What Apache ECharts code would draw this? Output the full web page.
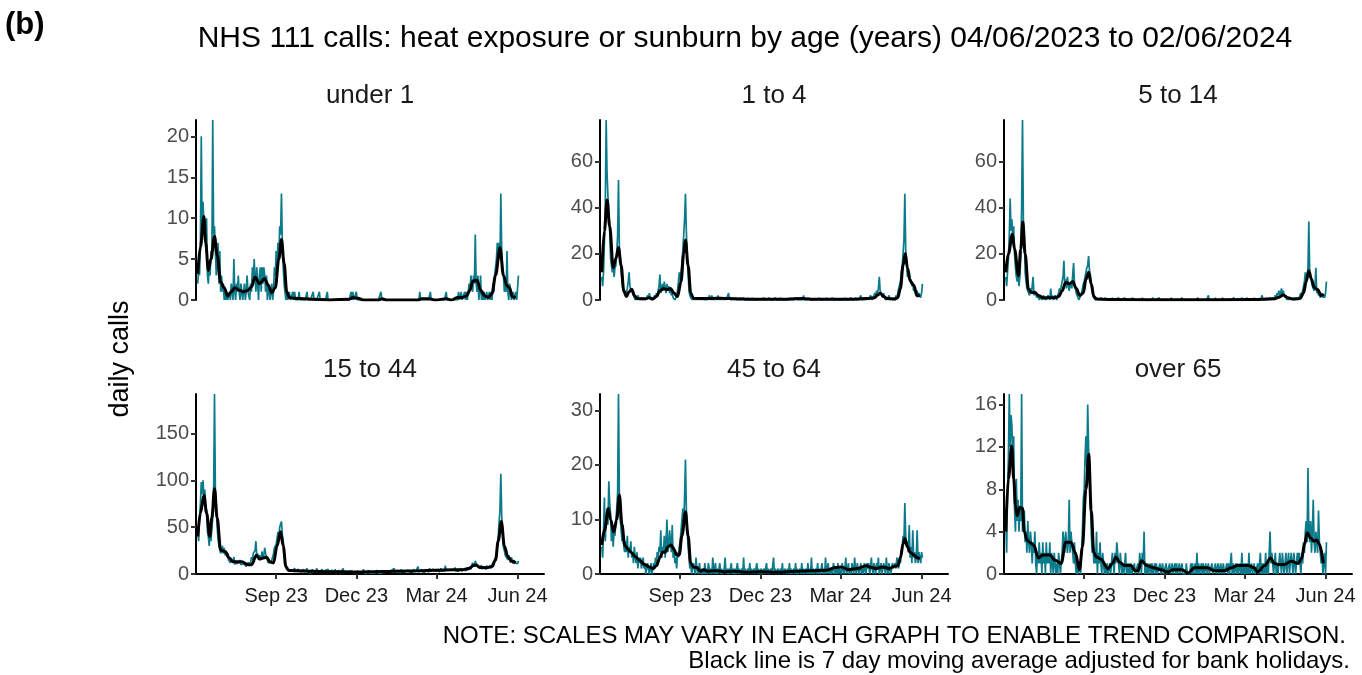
<!DOCTYPE html>
<html>
<head>
<meta charset="utf-8">
<script src="https://cdn.jsdelivr.net/npm/echarts@6/dist/echarts.min.js"></script>
<style>
  html, body { margin: 0; background: #fff; }
  #chart { width: 1362px; height: 675px; }
</style>
</head>
<body>
<div id="chart"></div>
<script>
// daily calls from 04/06/2023 to 02/06/2024, one value per day
const startDay = '2023-06-04';

const under1 = [
  2,4,3,7,20,8,12,9,9,7,10,3,2,4,3,6,5,22,8,9,6,3,4,7,2,6,1, // Jun 23
  3,1,2,0,1,0,1,0,0,1,0,2,1,0,5,1,0,2,1,3,1,0,2,1,0,1,2,0,1,3,1, // Jul
  1,0,2,1,4,2,5,3,1,4,2,0,3,4,1,4,2,4,3,1,3,0,2,1,0,1,2,0,1,4,3, // Aug
  6,4,7,5,9,8,13,7,4,2,1,0,1,0,0,1,0,0,0,1,0,1,0,0,0,0,1,0,0,0, // Sep
  0,0,0,0,0,1,0,0,0,0,0,0,1,0,0,0,0,0,0,1,0,0,0,0,0,0,0,0,1,0,0, // Oct
  0,0,0,0,0,0,0,0,0,0,0,0,0,0,0,0,0,0,0,0,0,0,0,0,1,0,1,0,0,0, // Nov
  1,0,0,0,0,0,0,0,0,0,0,0,0,0,0,0,0,0,0,0,0,0,0,0,0,0,0,0,1,0,0, // Dec
  0,0,0,0,0,0,0,0,0,0,0,0,0,0,0,0,0,0,0,0,0,0,0,0,0,0,0,0,0,0,0, // Jan 24
  0,0,0,0,0,0,0,0,0,0,1,0,0,0,0,0,0,0,0,0,0,0,1,0,0,0,0,0,0, // Feb
  0,0,0,0,0,0,0,0,0,0,0,1,0,0,0,0,0,0,0,0,0,0,0,0,0,1,0,0,1,0,0, // Mar
  0,1,0,1,0,1,2,1,3,2,1,3,2,8,2,1,3,0,1,3,0,1,0,1,0,0,1,0,0,1, // Apr
  0,1,0,2,1,3,4,5,7,6,7,5,13,6,4,3,1,2,1,6,1,0,2,1,0,0,1,0,0,1,0, // May
  0,3 // Jun 24
];
const age1to4 = [
  10,6,12,25,40,78,55,45,38,30,18,18,12,15,10,14,15,20,28,52,22,18,12,8,5,3,4,
  2,3,5,8,12,6,4,5,3,2,1,0,1,0,2,1,0,0,1,0,0,1,0,0,1,2,1,3,1,0,1,
  0,1,2,1,3,2,4,6,11,3,5,7,4,8,5,3,7,4,6,3,5,2,3,1,1,0,1,2,4,8,12,
  8,12,16,22,28,35,46,30,18,12,4,2,1,1,0,1,0,1,0,0,1,0,0,1,0,0,1,0,0,0,
  0,1,0,2,1,0,2,0,1,0,0,1,0,2,0,1,0,0,1,0,0,1,0,0,0,3,0,1,0,0,1,
  0,0,1,0,0,0,0,1,0,0,0,1,0,0,0,0,1,0,0,0,0,1,0,0,0,0,0,0,0,0,
  0,0,0,0,1,0,0,0,0,0,1,0,0,0,0,0,0,1,0,0,0,0,0,1,0,0,0,0,0,0,0,
  0,0,0,1,0,0,0,0,0,0,1,0,0,0,0,0,0,0,2,0,0,0,0,0,1,0,0,0,0,0,0,
  0,0,0,0,0,1,0,0,0,0,0,0,0,1,0,0,0,0,0,0,1,0,0,0,0,0,0,0,0,
  0,0,0,0,0,1,0,0,0,0,0,0,1,0,0,0,0,1,0,0,0,0,0,2,0,0,0,0,1,0,0,
  1,0,1,2,1,0,1,2,3,2,4,3,5,10,4,3,2,1,3,1,0,1,0,1,2,0,1,0,1,0,
  1,0,2,1,3,5,5,8,12,15,20,26,46,22,15,10,10,12,8,9,6,7,4,5,3,2,4,2,3,2,1,
  3,7
];
const age5to14 = [
  10,6,12,18,28,44,30,35,25,32,20,14,10,8,12,6,10,18,40,78,35,30,12,8,5,4,3,
  2,5,3,6,10,2,4,3,1,2,1,0,2,1,0,1,2,0,1,0,1,2,1,0,5,1,2,0,1,2,1,
  0,2,3,5,4,6,8,10,17,6,9,5,10,7,4,6,8,5,11,16,7,5,3,2,1,0,1,2,3,5,7,
  8,10,12,14,15,19,13,11,7,4,2,1,1,0,0,1,0,0,0,1,0,0,0,0,1,0,0,0,0,0,
  0,0,1,0,0,0,0,0,0,1,0,0,0,0,0,0,1,0,0,0,0,0,0,0,0,1,0,0,0,0,0,
  0,0,0,0,0,1,0,0,0,0,0,0,0,0,0,0,0,1,0,0,0,0,0,0,1,0,0,0,0,0,
  0,0,0,0,0,0,0,0,1,0,0,0,0,0,0,0,0,0,0,0,1,0,0,0,0,0,0,0,0,0,0,
  0,0,0,0,0,0,0,1,0,0,0,0,0,0,0,0,0,0,0,2,0,0,0,0,0,0,0,1,0,0,0,
  0,0,0,0,1,0,0,0,0,0,0,0,0,0,0,0,0,1,0,0,0,0,0,0,0,0,1,0,0,
  0,0,0,1,0,0,0,0,0,0,0,1,0,0,0,0,0,0,0,0,2,0,0,0,0,1,0,0,0,1,0,
  0,1,0,1,2,1,3,2,4,2,3,5,2,4,2,1,2,0,1,0,1,0,1,0,0,1,0,1,0,1,
  0,1,2,3,2,4,6,8,12,7,10,14,34,12,10,8,6,5,4,6,14,3,4,2,3,1,2,3,1,2,1,
  3,8
];
const age15to44 = [
  45,35,60,75,98,85,100,80,90,72,68,45,40,30,42,35,48,60,85,192,90,75,50,38,30,28,22,
  25,30,22,28,20,24,18,22,15,17,12,16,14,12,18,10,14,11,13,9,12,15,10,12,8,11,9,13,8,10,12,
  10,14,12,18,15,22,20,25,35,18,22,16,20,15,18,24,16,20,28,22,18,15,12,14,10,12,15,18,22,28,30,
  32,38,45,40,50,52,56,42,35,25,15,8,5,4,6,3,5,4,3,5,4,6,3,4,2,5,3,4,2,3,
  3,5,2,4,3,6,2,3,4,1,3,5,2,4,3,2,6,3,1,4,2,3,5,2,3,1,4,2,3,5,2,
  3,1,4,2,3,2,5,1,3,2,4,2,1,3,2,6,2,3,1,2,4,2,3,1,2,3,5,2,1,3,
  2,3,1,4,2,1,3,2,5,1,2,3,1,2,4,1,3,2,1,2,3,1,2,4,2,1,3,2,1,2,3,
  2,4,1,3,2,5,2,3,1,4,2,3,6,2,1,3,4,2,3,1,5,2,3,4,2,3,1,4,2,3,2,
  3,4,2,5,3,2,4,3,8,2,4,3,5,2,4,3,2,5,3,4,2,6,3,4,2,5,3,4,3,
  4,3,5,2,4,6,3,4,5,3,9,4,3,5,4,3,6,4,5,3,4,7,3,5,4,3,5,4,6,3,5,
  4,6,3,5,7,4,6,8,5,9,12,10,8,14,11,9,12,8,7,6,9,5,8,6,7,5,9,6,8,7,
  9,6,10,8,12,15,15,20,30,40,55,68,107,62,42,28,25,20,18,22,15,20,16,12,18,14,11,15,12,10,13,
  11,14
];
const age45to64 = [
  5,3,8,14,6,10,12,9,17,13,11,6,9,5,8,7,10,12,15,33,14,10,8,6,9,5,4,
  6,4,7,3,5,4,6,3,4,2,5,3,2,4,1,3,2,3,1,2,3,1,2,0,1,2,1,0,1,2,0,
  1,2,1,3,2,4,3,5,4,8,3,5,4,7,3,6,10,4,5,8,6,4,9,3,5,2,3,1,4,3,5,
  6,8,10,12,9,14,21,12,8,5,3,1,2,0,1,2,1,0,3,1,0,1,2,0,1,0,1,0,2,0,
  1,0,2,1,0,1,0,3,1,0,2,0,1,0,1,2,0,1,0,0,1,3,0,1,0,1,0,0,2,0,1,
  0,1,0,0,2,0,1,0,0,1,0,3,0,1,0,0,1,0,2,0,1,0,0,1,0,0,2,0,1,0,
  0,1,0,0,1,0,0,2,0,1,0,0,1,0,0,3,0,1,0,0,1,0,0,1,0,2,0,0,1,0,0,
  1,0,2,0,1,0,0,1,0,2,0,1,0,0,1,0,2,0,1,0,0,1,0,2,0,1,0,3,0,1,0,
  0,1,0,2,0,1,0,1,2,0,1,0,3,0,1,2,0,1,0,1,0,2,1,0,1,0,2,0,1,
  1,0,2,1,0,1,3,0,1,2,0,1,0,2,1,0,3,1,0,2,1,0,1,2,0,1,0,2,1,0,2,
  1,2,0,1,3,1,0,2,1,0,2,1,3,0,1,2,0,1,2,1,0,3,1,0,2,1,0,1,2,1,
  1,2,1,3,2,1,3,2,4,5,7,6,13,7,5,6,4,9,3,5,2,8,3,4,2,3,8,2,4,3,2,
  4,3
];
const over65 = [
  5,2,8,11,17,12,15,14,10,13,6,4,9,5,7,4,6,5,17,4,5,6,3,4,2,5,3,
  2,4,3,1,3,2,4,1,0,2,1,3,1,2,0,3,1,2,0,3,1,2,1,3,0,2,1,0,2,1,0,
  1,0,2,1,0,1,2,4,3,2,4,3,2,3,7,2,4,3,2,1,3,1,0,1,0,0,1,0,2,4,7,
  8,11,13,10,16,12,9,7,4,2,3,1,2,1,4,0,2,1,3,1,0,2,1,0,1,0,1,0,0,1,
  0,1,2,1,0,2,1,3,2,1,0,2,1,0,1,0,1,2,0,1,0,1,0,1,0,0,0,1,0,0,0,
  1,0,2,1,0,2,1,4,0,1,0,1,0,0,1,0,1,0,0,1,0,1,0,0,0,1,0,0,1,0,
  0,0,1,0,0,0,1,0,0,1,0,0,1,0,1,0,0,1,0,0,1,0,0,0,0,1,0,0,0,0,1,
  0,1,0,0,1,0,2,0,1,0,0,1,0,1,0,0,1,0,0,1,0,0,0,1,0,0,0,1,0,0,1,
  0,0,1,0,0,1,0,0,0,1,0,1,0,0,2,0,1,0,0,1,0,1,0,0,1,0,2,0,1,
  0,1,0,1,0,2,0,0,1,0,0,1,0,0,0,1,0,0,2,0,1,0,1,0,2,0,1,0,0,4,1,
  2,1,0,1,2,0,1,0,1,2,1,0,2,1,0,1,2,0,1,2,0,1,2,1,0,2,1,0,1,2,
  1,2,1,0,2,1,3,2,4,5,3,10,4,3,5,2,4,7,3,2,4,3,2,6,3,2,1,2,0,1,2,
  0,3
];

// 7 day moving average: [days since 04/06/2023, value]
const maUnder1 = [[0,3.2],[3,6.5],[7,10.2],[9,7],[12,3.6],[15,5],[19,7.8],[22,5.5],[26,2.2],[30,1.5],[34,0.5],[38,1.0],[42,1.5],[47,1.2],[52,1.0],[57,1.2],[61,1.6],[65,2.8],[70,2.0],[76,2.6],[80,1.8],[84,0.9],[88,1.5],[92,5.0],[95,7.4],[98,4.5],[101,1.0],[104,0.3],[110,0.2],[130,0.1],[150,0],[172,0.1],[176,0.3],[182,0.2],[188,0],[205,0],[209,0.15],[214,0],[250,0],[254,0.15],[262,0.15],[270,0],[282,0.15],[288,0],[295,0.3],[300,0.3],[305,0.5],[309,1.2],[312,2.3],[317,2.4],[321,1.2],[326,0.5],[330,0.3],[334,0.8],[338,3.0],[343,6.4],[347,3.0],[351,1.7],[354,1.5],[357,0.4],[361,0.3]];
const ma1to4 = [[0,12],[3,30],[6,43.3],[9,32],[13,14],[16,18],[19,22.7],[22,15],[25,4],[28,1.5],[31,3.5],[34,4.7],[37,2],[40,0.6],[50,0.5],[54,1.0],[58,0.4],[62,1.5],[66,4],[70,5],[74,4.5],[78,5],[82,3],[86,1.5],[90,8],[93,20],[95,26],[98,15],[101,3],[104,0.8],[110,0.6],[120,0.6],[130,0.8],[140,0.7],[150,0.5],[170,0.3],[200,0.3],[228,0.6],[240,0.3],[280,0.3],[300,0.6],[310,1.0],[313,2.2],[316,2.9],[320,1.5],[324,0.6],[332,0.4],[336,1.0],[339,5],[342,15],[344.5,20.1],[347,14],[350,8.3],[354,6.5],[358,1.8],[361,2]];
const ma5to14 = [[0,12],[3,20],[7.5,28.5],[10,22],[14.4,10.5],[17,22],[19.3,33.8],[22,20],[25.7,4.7],[29,3.3],[33,3.3],[37,2],[42,1],[50,1],[56,1],[60,1.5],[64,4],[68,7.6],[72,7],[76,8],[80,5],[84,2],[88,3],[91,9],[94,12],[97,7],[100,1.5],[103,0.4],[120,0.2],[200,0.1],[280,0.2],[305,0.5],[310,1.2],[315,2.2],[320,1.0],[326,0.4],[334,0.6],[338,3],[341,8],[344,12.7],[347,9],[350,5.5],[354,4.5],[358,1.9],[361,2.6]];
const ma15to44 = [[0,40],[3,65],[7,84],[10,65],[13.6,40],[16,60],[19,91],[22,60],[26,25.5],[31,24],[36,17],[40,13],[50,13],[57,10],[61,10],[66.6,20],[70,16],[74,17],[78,18],[82,13],[86,12],[90,30],[94,45],[97,30],[100,8],[103,4],[110,3.5],[130,3],[150,2.5],[180,2.2],[210,2.8],[240,3.2],[270,4],[290,4.5],[300,4.5],[308,6],[313,9],[316,9.6],[320,7],[328,6.7],[334,8],[338,15],[341,35],[344.6,56],[348,30],[352,18.4],[356,14],[361,12]];
const ma45to64 = [[0,5.3],[3,8],[7.5,12],[10,10],[13.6,7.7],[17,10],[20,14.5],[23,9],[26,5.3],[30,4.5],[33,4],[38,3.2],[43,2.5],[48,1.8],[54,1.3],[58,1],[62,1.5],[66,3],[69,4],[72,4],[75,5],[78.7,5.3],[82,4.5],[85,3.5],[88,3.5],[91,7],[95,11.4],[98,7],[101,2],[104,1.3],[108,1.2],[112,0.5],[116,0.8],[120,0.5],[130,0.6],[140,0.4],[150,0.5],[165,0.3],[180,0.4],[200,0.3],[220,0.5],[240,0.6],[255,0.7],[265,1.2],[272,1.3],[280,0.8],[290,1.0],[300,1.5],[306,1.2],[312,1.0],[319,1.3],[326,1.0],[332,1.4],[336,1.5],[339,3],[342,5.5],[344,6.5],[347,5],[350,4],[354,3.5],[358,3],[361,2.8]];
const maOver65 = [[0,4],[3,9],[6.7,12.1],[9,9],[11,6.5],[13,5.5],[16,6.3],[19,6.2],[21,4],[24,3.2],[27,3],[32,2.7],[37,1.5],[42,1.8],[50,1.8],[56,1.3],[63,1],[68,3],[74,3],[79,2],[83.6,0.4],[87,2.5],[91,8],[94.2,11.3],[97,6],[100,2],[103,1.6],[108,1.4],[116,0.5],[121,1],[125.3,1.6],[129,1.1],[135,0.8],[142,0.8],[147,0.3],[150,0.3],[154,1.25],[160,0.8],[168,0.6],[176,0.4],[184,0.2],[190,0.4],[200,0.4],[207,0.1],[214,0.6],[222,0.6],[229,0.6],[237,0.3],[248,0.3],[256,0.6],[263,0.8],[275,0.8],[282,0.6],[286,0.2],[294,0.8],[300.7,1.5],[305,1.0],[309,0.9],[316,0.9],[324,1.2],[332,1.0],[336,1.5],[339,2.8],[342.3,3.9],[346,3.4],[350,3.1],[353,3.2],[356,2.8],[360.5,1.0]];

const panelNames = ['under 1', '1 to 4', '5 to 14', '15 to 44', '45 to 64', 'over 65'];
const dailyData = [under1, age1to4, age5to14, age15to44, age45to64, over65];
const maData = [maUnder1, ma1to4, ma5to14, ma15to44, ma45to64, maOver65];
const yMax = [22, 78, 78, 192, 33, 17];
const yTicks = [[0,5,10,15,20], [0,20,40,60], [0,20,40,60], [0,50,100,150], [0,10,20,30], [0,4,8,12,16]];
const xTickDates = ['2023-09-01', '2023-12-01', '2024-03-01', '2024-06-01'];
const xTickLabels = ['Sep 23', 'Dec 23', 'Mar 24', 'Jun 24'];
const xMinDate = '2023-06-02';
const xMaxDate = '2024-07-01';

const DAY = 86400000;
const t0 = Date.parse(startDay + 'T00:00:00Z');
const ts = d => Date.parse(d + 'T00:00:00Z');
const tickTs = xTickDates.map(ts);

const FONT = '"Liberation Sans", Arial, Helvetica, sans-serif';
const TEAL = '#0b7b8b';
const lefts = [196, 600, 1004];
const tops = [120, 394];
const W = 348, H = 180;

const grids = [], xAxes = [], yAxes = [], series = [], texts = [];

panelNames.forEach((name, i) => {
  const col = i % 3, row = Math.floor(i / 3);
  const bottomRow = row === 1;
  grids.push({ left: lefts[col], top: tops[row], width: W, height: H });
  xAxes.push({
    gridIndex: i, type: 'value', min: ts(xMinDate), max: ts(xMaxDate),
    show: bottomRow,
    axisLine: { show: true, onZero: false, lineStyle: { color: '#000', width: 2 } },
    axisTick: { show: true, length: 5, customValues: tickTs, lineStyle: { color: '#333', width: 2 } },
    axisLabel: {
      customValues: tickTs, fontSize: 20, color: '#1a1a1a', fontFamily: FONT, margin: 12,
      formatter: v => xTickLabels[tickTs.indexOf(v)] || ''
    },
    splitLine: { show: false }
  });
  yAxes.push({
    gridIndex: i, type: 'value', min: 0, max: yMax[i],
    axisLine: { show: true, lineStyle: { color: '#000', width: 2 } },
    axisTick: { show: true, length: 5, customValues: yTicks[i], lineStyle: { color: '#333', width: 2 } },
    axisLabel: { customValues: yTicks[i], fontSize: 20, color: '#4d4d4d', fontFamily: FONT, margin: 7 },
    splitLine: { show: false }
  });
  series.push({
    type: 'line', xAxisIndex: i, yAxisIndex: i, showSymbol: false, silent: true,
    data: dailyData[i].map((v, d) => [t0 + d * DAY, v]),
    lineStyle: { color: TEAL, width: 1.7 }, z: 2
  });
  series.push({
    type: 'line', xAxisIndex: i, yAxisIndex: i, showSymbol: false, silent: true,
    smooth: 0.35, smoothMonotone: 'x',
    data: maData[i].map(p => [t0 + p[0] * DAY, p[1]]),
    lineStyle: { color: '#000', width: 3 }, z: 3
  });
  texts.push({
    type: 'text', x: lefts[col] + W / 2, y: tops[row] - 24,
    style: { text: name, font: '26px ' + FONT, fill: '#1a1a1a', align: 'center', verticalAlign: 'middle' }
  });
});

texts.push(
  { type: 'text', x: 5, y: 25, style: { text: '(b)', font: 'bold 31px ' + FONT, fill: '#000', align: 'left', verticalAlign: 'middle' } },
  { type: 'text', x: 745, y: 39, style: { text: 'NHS 111 calls: heat exposure or sunburn by age (years) 04/06/2023 to 02/06/2024', font: '30px ' + FONT, fill: '#000', align: 'center', verticalAlign: 'middle' } },
  { type: 'text', x: 121, y: 359, rotation: Math.PI / 2, style: { text: 'daily calls', font: '27px ' + FONT, fill: '#000', align: 'center', verticalAlign: 'middle' } },
  { type: 'text', x: 1346, y: 636, style: { text: 'NOTE: SCALES MAY VARY IN EACH GRAPH TO ENABLE TREND COMPARISON.', font: '24px ' + FONT, fill: '#000', align: 'right', verticalAlign: 'middle' } },
  { type: 'text', x: 1350, y: 661, style: { text: 'Black line is 7 day moving average adjusted for bank holidays.', font: '24px ' + FONT, fill: '#000', align: 'right', verticalAlign: 'middle' } }
);

const chart = echarts.init(document.getElementById('chart'), null, { renderer: 'canvas' });
chart.setOption({
  animation: false,
  backgroundColor: '#fff',
  grid: grids,
  xAxis: xAxes,
  yAxis: yAxes,
  series: series,
  graphic: texts
});
</script>
</body>
</html>
